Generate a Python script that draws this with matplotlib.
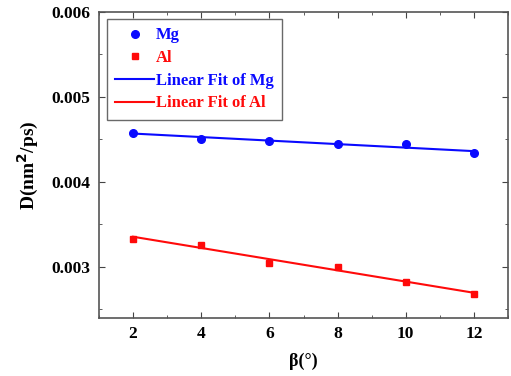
import numpy as np
import matplotlib
matplotlib.use("Agg")
import matplotlib.pyplot as plt
from matplotlib.ticker import MultipleLocator

beta = [2, 4, 6, 8, 10, 12]
mg = [0.00458, 0.00451, 0.00448, 0.00444, 0.00444, 0.00434]
al = [0.00333, 0.00326, 0.00305, 0.00300, 0.00282, 0.00268]
xticks = [2, 4, 6, 8, 10, 12]
yticks = [0.003, 0.004, 0.005, 0.006]

plt.rcParams['font.family'] = ['Liberation Serif', 'DejaVu Serif']
plt.rcParams['font.weight'] = 'bold'

fig = plt.figure(figsize=(5.11, 3.76), dpi=100)
ax = fig.add_axes([99/511, 1-317.7/376, (508-99)/511, (317.7-12)/376])

ax.plot(beta, mg, 'o', color='#0a0aff', ms=5.5, label='Mg', zorder=3)
ax.plot(beta, al, 's', color='#ff0a0a', ms=5, label='Al', zorder=3)
xa = np.array(beta, dtype=float)
pm = np.polyfit(xa, mg, 1)
pa = np.polyfit(xa, al, 1)
ax.plot(xa, np.polyval(pm, xa), '-', color='#0a0aff', lw=1.5, label='Linear Fit of Mg')
ax.plot(xa, np.polyval(pa, xa), '-', color='#ff0a0a', lw=1.5, label='Linear Fit of Al')

ax.set_xlim(1, 13)
ax.set_ylim(0.0024, 0.006)
ax.set_xticks(xticks)
ax.set_yticks(yticks)
ax.set_yticklabels([f"{v:.3f}" for v in yticks])
ax.xaxis.set_minor_locator(MultipleLocator(1))
ax.yaxis.set_minor_locator(MultipleLocator(0.0005))
ax.tick_params(which='both', direction='in', top=True, right=True, color='#444444')
ax.tick_params(which='major', length=4, labelsize=12.5, pad=6)
ax.tick_params(which='minor', length=2)
for lab in ax.get_xticklabels() + ax.get_yticklabels():
    lab.set_fontweight('bold')
for s in ax.spines.values():
    s.set_color('#555555')
    s.set_linewidth(1.2)

ax.set_xlabel('β(°)', fontsize=13, fontweight='bold', labelpad=8)
ax.set_ylabel('D(nm$^\\mathbf{2}$/ps)', fontsize=14, fontweight='bold', labelpad=8)

leg = ax.legend(loc='upper left', bbox_to_anchor=(0.0196, 0.977), borderaxespad=0,
                prop={'weight': 'bold', 'size': 12}, fancybox=False,
                edgecolor='#444444', handlelength=2.3, handletextpad=0.15,
                borderpad=0.5, labelspacing=0.4)
leg.get_frame().set_linewidth(1.0)
for t, c in zip(leg.get_texts(), ['#0a0aff', '#ff0a0a', '#0a0aff', '#ff0a0a']):
    t.set_color(c)

fig.savefig('out.png', dpi=100)
